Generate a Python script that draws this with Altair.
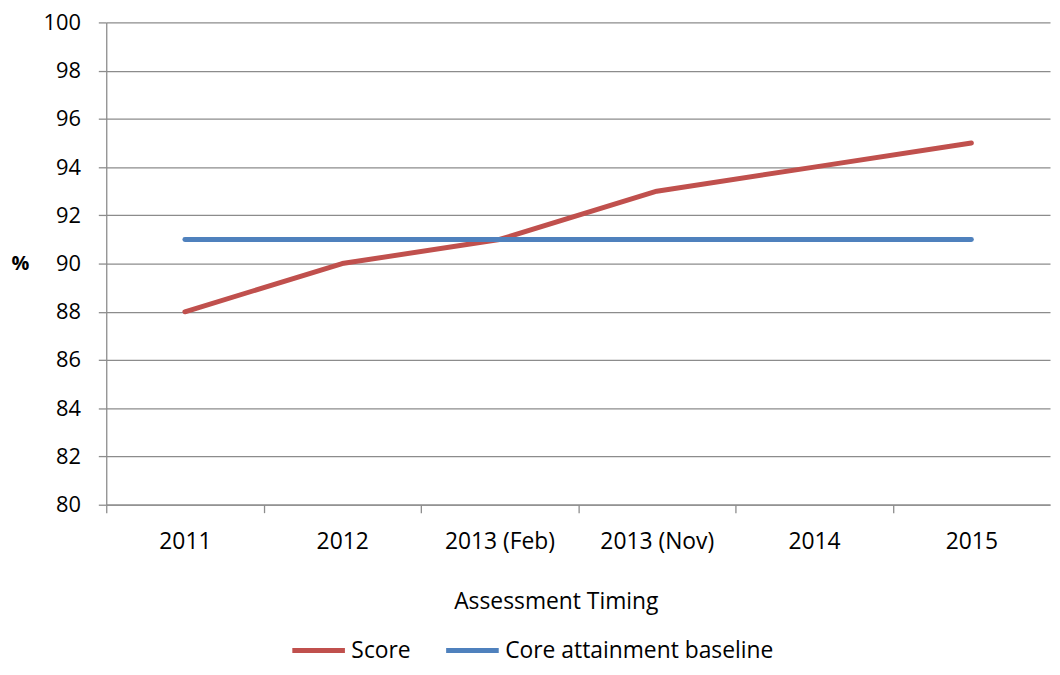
import altair as alt
import pandas as pd

categories = ["2011", "2012", "2013 (Feb)", "2013 (Nov)", "2014", "2015"]
score = [88, 90, 91, 93, 94, 95]
baseline = [91, 91, 91, 91, 91, 91]
series_names = ["Score", "Core attainment baseline"]
series_colors = ["#C0504D", "#4F81BD"]
y_ticks = list(range(80, 101, 2))

rows = []
for c, s, b in zip(categories, score, baseline):
    rows.append({"cat": c, "series": "Score", "value": s})
    rows.append({"cat": c, "series": "Core attainment baseline", "value": b})
df = pd.DataFrame(rows)

W, H = 951, 486
step = W / len(categories)
FONT = "Open Sans"
GRID = "#8C8C8C"

chart = alt.Chart(df).mark_line(strokeWidth=5, strokeCap="round", strokeJoin="round").encode(
    x=alt.X(
        "cat:N",
        sort=categories,
        scale=alt.Scale(type="point", padding=0.5),
        axis=alt.Axis(
            title="Assessment Timing",
            labelAngle=0,
            tickOffset=-step / 2,
            labelOffset=step / 2,
            tickSize=8,
            tickColor=GRID,
            tickWidth=1.3,
            domainColor=GRID,
            domainWidth=1.3,
            labelFontSize=23,
            labelColor="black",
            labelPadding=18,
            titleFontSize=23,
            titleFontWeight="normal",
            titleColor="black",
            titleX=453,
            titleY=98,
            titleBaseline="middle",
            titleAlign="center",
            grid=False,
        ),
    ),
    y=alt.Y(
        "value:Q",
        scale=alt.Scale(domain=[80, 100], nice=False, zero=False),
        axis=alt.Axis(
            values=y_ticks,
            title="%",
            titleAngle=0,
            titleX=-87,
            titleY=243,
            titleAlign="center",
            titleBaseline="middle",
            titleFontSize=20,
            titleFontWeight="bold",
            titleColor="black",
            tickSize=8,
            tickColor=GRID,
            tickWidth=1.3,
            domainColor=GRID,
            domainWidth=1.3,
            grid=True,
            gridColor=GRID,
            gridWidth=1.3,
            labelFontSize=22,
            labelColor="black",
            labelPadding=18,
        ),
    ),
    color=alt.Color(
        "series:N",
        sort=series_names,
        scale=alt.Scale(domain=series_names, range=series_colors),
        legend=alt.Legend(
            title=None,
            orient="none",
            legendX=185,
            legendY=604,
            direction="horizontal",
            symbolType="stroke",
            symbolSize=2809,
            symbolStrokeWidth=5,
            labelFontSize=23,
            labelColor="black",
            labelOffset=4,
            labelLimit=500,
            columnPadding=25,
        ),
    ),
).properties(
    width=W,
    height=H,
    autosize=alt.AutoSizeParams(type="none"),
    padding={"left": 99, "top": 12, "right": 2, "bottom": 161},
).configure(
    font=FONT,
).configure_view(
    stroke=None,
)

chart.save("out.html", embed_options={"renderer": "svg", "actions": False})
